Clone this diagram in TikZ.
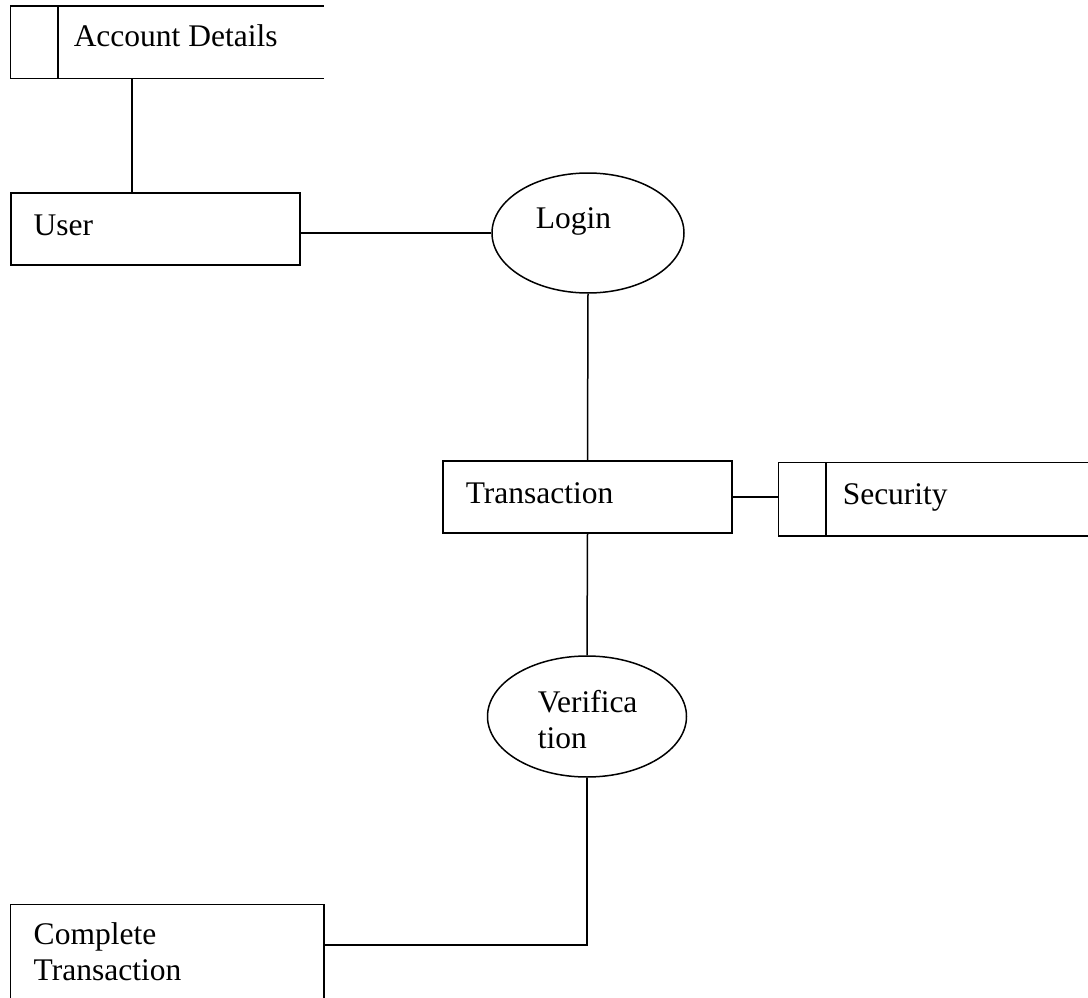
\documentclass[tikz,border=0pt]{standalone}
\usepackage{fontspec}
\setmainfont{Liberation Serif}
\usetikzlibrary{shapes.geometric}
\begin{document}
\begin{tikzpicture}[x=1pt,y=-1pt,
  line width=1.5pt,
  every node/.style={font=\fontsize{31.5}{36}\selectfont},
  procbox/.style={draw,rectangle,inner sep=0pt},
  storebox/.style={rectangle,inner sep=0pt},
  proc/.style={draw,ellipse,inner sep=0pt},
  txt/.style={anchor=base west,inner sep=0pt}]
\useasboundingbox (0,0) rectangle (1088,998);

% entities
\node[procbox,minimum width=289pt,minimum height=72pt] (user) at (155.5,229) {};
\node[txt] (userlbl) at (33,235) {User};

\node[procbox,minimum width=289pt,minimum height=72pt] (trans) at (587.5,497) {};
\node[txt] (translbl) at (465,503) {Transaction};

% processes
\node[proc,minimum width=192pt,minimum height=120pt] (login) at (588,233) {};
\node[txt] (loginlbl) at (535,228) {Login};

\node[proc,minimum width=199pt,minimum height=121pt] (verif) at (587,716.5) {};
\node[txt] (veriflbl1) at (537,712) {Verifica};
\node[txt] (veriflbl2) at (537,748) {tion};

% data stores, open on the right
\node[storebox,minimum width=312pt,minimum height=71pt] (acct) at (167,42.5) {};
\draw (acct.north east) -- (acct.north west) -- (acct.south west) -- (acct.south east);
\coordinate (acctdiv) at (58,0);
\draw (acct.north -| acctdiv) -- (acct.south -| acctdiv);
\node[txt] (acctlbl) at (73,47) {Account Details};

\node[storebox,minimum width=309pt,minimum height=72pt] (sec) at (933.5,499) {};
\draw (sec.north east) -- (sec.north west) -- (sec.south west) -- (sec.south east);
\coordinate (secdiv) at (826,0);
\draw (sec.north -| secdiv) -- (sec.south -| secdiv);
\node[txt] (seclbl) at (842,504) {Security};

% final entity, running off the bottom edge
\node[storebox,minimum width=312pt,minimum height=93pt] (comp) at (167,951.5) {};
\draw (comp.south west) -- (comp.north west) -- (comp.north east) -- (comp.south east);
\node[txt] (complbl1) at (33,944) {Complete};
\node[txt] (complbl2) at (33,980) {Transaction};

% connectors
\coordinate (acctlink) at (132,0);
\draw (acct.south -| acctlink) -- (user.north -| acctlink);
\draw (login.west) -- (login.west -| user.east);
\draw (login.south) -- (trans.north);
\draw (trans.east) -- (trans.east -| sec.west);
\draw (trans.south) -- (verif.north);
\coordinate (bend) at (587,945);
\draw (verif.south) -- (bend) -- (bend -| comp.east);
\end{tikzpicture}
\end{document}
